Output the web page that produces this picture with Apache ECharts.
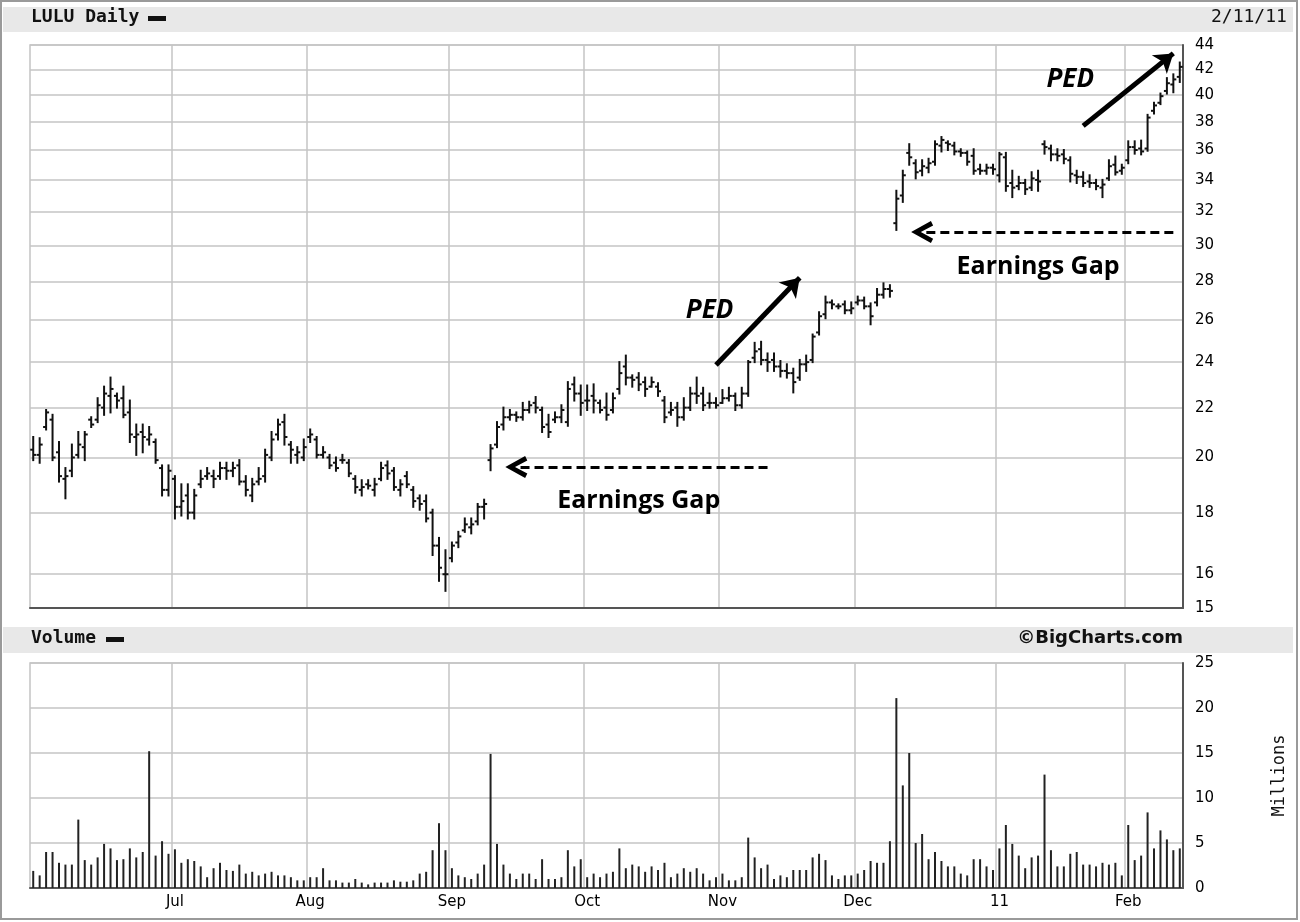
<!DOCTYPE html>
<html>
  <meta charset="UTF-8">
  <title>LULU Daily</title>
  <style type="text/css">
    html,body{margin:0px;height:100%;width:100%;background:#fff}
    .container{width:1300px;height:922px}
  </style>
  <script type="text/javascript" src="https://cdn.jsdelivr.net/npm/echarts@6/dist/echarts.min.js"></script>
  <body>
    <div id="chart" class="container"></div>

    <script>
      // trading days 2010-06-01 .. 2011-02-11
      var holidays = ['2010-07-05', '2010-09-06', '2010-11-25', '2010-12-24', '2011-01-17'];
      var monthNames = {'07':'Jul', '08':'Aug', '09':'Sep', '10':'Oct', '11':'Nov', '12':'Dec', '01':'11', '02':'Feb'};
      var priceTicks = [15, 16, 18, 20, 22, 24, 26, 28, 30, 32, 34, 36, 38, 40, 42, 44];

      var opens = [
        20.3,20.1,21.2,21.5,20.2,19.2,19.5,20.1,20.4,21.5,21.5,22.0,22.5,22.5,22.4,21.8,20.8,21.0,20.7,20.6,19.6,18.8,
        19.2,18.2,18.6,18.0,19.0,19.3,19.3,19.3,19.6,19.5,19.7,19.1,18.6,19.1,19.3,20.0,20.9,21.4,20.5,20.1,20.0,
        20.8,20.7,20.1,20.0,19.8,19.9,19.8,19.2,18.8,19.0,18.8,19.2,19.7,19.5,18.8,19.3,18.8,18.5,18.4,18.0,16.9,16.0,
        16.5,17.0,17.4,17.5,17.7,18.2,19.9,20.5,21.3,21.6,21.7,21.6,21.9,22.2,21.9,21.3,21.5,21.6,21.4,23.0,22.6,
        22.3,22.5,22.2,22.0,21.9,22.8,23.8,23.3,23.3,23.1,22.9,22.9,22.3,21.8,22.0,21.6,22.0,22.6,22.6,22.2,22.2,
        22.2,22.4,22.5,22.1,22.6,24.2,24.6,24.1,24.1,23.8,23.6,23.5,23.3,23.9,24.1,25.4,26.3,26.9,26.7,26.8,26.5,
        26.9,27.0,26.7,26.9,27.3,27.6,31.3,33.0,35.8,35.1,34.6,34.8,35.2,36.3,36.5,36.3,35.9,35.8,35.6,34.7,34.6,34.8,
        34.3,35.5,33.8,33.6,33.8,33.5,34.0,36.4,36.1,35.7,35.7,35.3,34.3,34.2,33.9,33.8,33.5,34.1,35.0,34.6,
        35.3,36.2,36.1,36.1,38.8,39.4,40.3,40.8,41.4
      ];
      var highs = [
        20.8,20.75,21.9,21.7,20.6,19.6,20.5,21.0,21.0,21.6,22.4,22.9,23.3,22.6,22.9,22.3,21.3,21.3,21.2,20.7,19.7,19.7,
        19.3,19.0,19.0,18.8,19.5,19.6,19.5,19.8,19.8,19.8,19.9,19.3,19.2,19.6,20.3,21.0,21.5,21.7,20.6,20.4,20.7,
        21.1,20.8,20.4,20.1,20.0,20.1,19.9,19.3,19.15,19.15,19.2,19.8,19.85,19.6,19.15,19.45,18.9,18.6,18.6,18.1,17.15,16.75,
        17.0,17.35,17.8,17.8,18.3,18.45,20.48,21.4,22.0,21.9,21.8,22.2,22.25,22.45,22.0,21.7,21.8,22.1,23.1,23.3,22.95,
        22.95,23.0,22.3,22.6,22.6,24.0,24.3,23.4,23.5,23.3,23.3,23.05,22.45,22.2,22.2,22.4,22.85,23.3,22.85,22.6,22.4,
        22.75,22.85,22.6,22.85,24.05,24.9,24.95,24.4,24.4,24.05,23.9,23.7,24.1,24.3,25.3,26.4,27.2,27.0,26.8,26.95,26.9,
        27.2,27.15,26.85,27.6,27.9,27.8,33.3,34.6,36.4,35.3,35.3,35.4,36.6,36.9,36.6,36.5,36.05,35.9,36.05,35.0,35.0,35.0,
        35.8,35.8,34.6,34.2,34.0,34.5,34.6,36.6,36.3,36.05,36.0,35.5,34.6,34.5,34.3,34.0,34.0,35.3,35.55,35.0,
        36.6,36.6,36.65,38.5,39.4,40.1,41.3,41.6,42.55
      ];
      var lows = [
        19.9,19.8,21.1,19.9,19.1,18.5,19.3,20.0,19.9,21.2,21.4,21.7,21.8,22.0,21.6,20.6,20.1,20.2,20.5,19.8,18.6,18.6,
        17.8,17.9,17.8,17.8,18.9,19.2,18.9,19.2,19.2,19.3,19.0,18.6,18.4,19.0,19.1,19.9,20.7,20.5,19.8,19.8,19.9,
        20.6,20.0,20.0,19.6,19.5,19.8,19.3,18.7,18.6,18.85,18.6,19.15,19.2,18.8,18.6,18.9,18.2,18.1,17.7,16.6,15.8,15.5,
        16.4,16.85,17.35,17.3,17.6,17.8,19.52,20.4,21.1,21.5,21.45,21.5,21.8,21.8,21.0,20.8,21.4,21.4,21.25,22.3,21.7,
        21.9,21.8,21.8,21.5,21.8,22.6,23.0,22.9,22.75,22.5,22.9,22.5,21.4,21.7,21.25,21.5,21.9,22.2,21.9,22.0,22.0,
        22.2,22.3,21.9,22.0,22.5,24.0,23.9,23.6,23.6,23.35,23.3,22.65,23.2,23.6,24.0,25.3,26.1,26.6,26.6,26.35,26.35,
        26.8,26.6,25.8,26.75,27.15,27.2,30.9,32.6,35.0,34.1,34.3,34.5,35.0,35.9,36.0,35.7,35.6,35.0,34.4,34.4,34.4,34.4,
        33.9,33.3,32.9,33.4,33.1,33.35,33.3,35.75,35.3,35.3,35.1,33.9,33.8,33.6,33.55,33.4,32.9,34.0,34.35,34.4,
        35.1,35.75,35.7,35.95,38.6,39.3,40.1,40.2,41.0
      ];
      var closes = [
        20.1,20.5,21.8,20.0,19.3,19.3,20.0,20.5,20.9,21.3,22.1,22.6,22.8,22.3,21.7,20.9,20.9,20.8,20.9,19.9,18.8,19.5,
        18.2,18.4,18.0,18.6,19.2,19.4,19.2,19.6,19.5,19.6,19.1,18.8,19.0,19.2,20.1,20.7,21.3,20.8,20.3,20.2,20.4,
        20.9,20.1,20.2,19.7,19.6,19.9,19.4,18.9,18.9,18.95,19.0,19.6,19.4,18.9,19.0,19.0,18.4,18.3,17.8,16.9,16.2,16.0,
        16.9,17.2,17.6,17.6,18.2,18.3,20.35,21.2,21.6,21.7,21.6,21.9,22.1,22.0,21.2,21.0,21.6,21.9,22.8,22.6,22.2,
        22.3,22.3,21.9,21.7,22.4,23.5,23.3,23.2,23.0,22.8,23.1,22.7,21.6,21.9,21.6,22.0,22.6,22.5,22.1,22.2,22.1,
        22.4,22.5,22.1,22.6,24.0,24.5,24.1,24.0,23.8,23.6,23.5,23.1,23.9,24.0,25.2,26.2,26.9,26.8,26.7,26.5,26.6,
        27.0,26.7,26.2,27.3,27.6,27.5,32.8,34.3,35.5,34.5,34.9,35.1,36.4,36.7,36.4,35.9,35.8,35.2,34.6,34.6,34.8,34.7,
        35.7,33.6,33.5,33.8,33.4,34.1,33.9,36.2,35.7,35.6,35.4,34.4,34.2,33.8,33.8,33.6,33.7,34.9,34.5,34.8,
        36.2,36.0,35.9,38.3,39.2,39.9,40.9,41.2,42.2
      ];
      // volume, millions
      var volumes = [
        1.9,1.4,4.0,4.0,2.8,2.6,2.6,7.6,3.1,2.6,3.4,4.9,4.4,3.1,3.2,4.4,3.4,4.0,15.2,3.6,5.2,3.8,
        4.3,2.8,3.2,3.0,2.4,1.2,2.2,2.8,2.0,1.9,2.6,1.6,1.8,1.4,1.6,1.8,1.4,1.4,1.2,0.85,0.85,
        1.2,1.2,2.2,0.85,0.85,0.6,0.6,1.0,0.6,0.4,0.6,0.6,0.6,0.85,0.7,0.7,0.85,1.6,1.8,4.2,7.2,4.2,
        2.2,1.4,1.2,1.0,1.6,2.6,14.9,4.9,2.6,1.6,1.0,1.6,1.6,1.0,3.2,1.0,1.0,1.2,4.2,2.4,3.2,
        1.2,1.6,1.2,1.6,1.8,4.4,2.2,2.6,2.4,1.8,2.4,2.0,2.8,1.2,1.6,2.2,1.8,2.2,1.6,0.85,1.2,
        1.6,0.85,0.85,1.2,5.6,3.4,2.2,2.6,1.0,1.4,1.2,2.0,2.0,2.0,3.4,3.8,3.1,1.4,1.0,1.4,1.4,
        1.6,2.0,3.0,2.8,2.8,5.2,21.1,11.4,15.0,5.0,6.0,3.2,4.0,3.0,2.4,2.4,1.6,1.4,3.2,3.2,2.4,2.0,
        4.4,7.0,4.9,3.6,2.2,3.4,3.6,12.6,4.2,2.4,2.4,3.8,4.0,2.6,2.6,2.4,2.8,2.6,2.8,1.4,
        7.0,3.1,3.6,8.4,4.4,6.4,5.4,4.2,4.4
      ];

      function pad(n) { return n < 10 ? '0' + n : '' + n; }
      var dates = [];
      var d = new Date(Date.UTC(2010, 5, 1));
      var end = new Date(Date.UTC(2011, 1, 11));
      while (d <= end) {
        var s = d.getUTCFullYear() + '-' + pad(d.getUTCMonth() + 1) + '-' + pad(d.getUTCDate());
        var wd = d.getUTCDay();
        if (wd !== 0 && wd !== 6 && holidays.indexOf(s) < 0) dates.push(s);
        d.setUTCDate(d.getUTCDate() + 1);
      }

      function monthStart(i) {
        return i > 0 && dates[i].slice(0, 7) !== dates[i - 1].slice(0, 7);
      }

      var ohlc = dates.map(function (day, i) {
        return [i, opens[i], highs[i], lows[i], closes[i]];
      });

      function renderBar(params, api) {
        var i = api.value(0);
        var o = api.coord([i, api.value(1)]);
        var h = api.coord([i, api.value(2)]);
        var l = api.coord([i, api.value(3)]);
        var c = api.coord([i, api.value(4)]);
        var st = { stroke: '#111', lineWidth: 2 };
        return {
          type: 'group',
          children: [
            { type: 'line', shape: { x1: h[0], y1: h[1] - 1, x2: l[0], y2: l[1] + 1 }, style: st },
            { type: 'line', shape: { x1: o[0] - 3, y1: o[1], x2: o[0], y2: o[1] }, style: st },
            { type: 'line', shape: { x1: c[0], y1: c[1], x2: c[0] + 3, y2: c[1] }, style: st }
          ]
        };
      }

      var gridColor = '#c4c4c4';
      var axisDark = '#555';
      var labelFont = { fontFamily: 'DejaVu Sans', fontSize: 15, color: '#000' };
      var monoFont = 'DejaVu Sans Mono';
      // open chevron used for the dashed "earnings gap" arrows
      var chevron = 'path://M0,9 L5,0 L10,9 L8,10 L5,4.4 L2,10 Z';

      var chart = echarts.init(document.getElementById('chart'), null, { renderer: 'canvas' });

      var option = {
        animation: false,
        backgroundColor: '#fff',
        grid: [
          { left: 30, right: 117, top: 45, height: 563, show: true, borderColor: gridColor, borderWidth: 1.5 },
          { left: 30, right: 117, top: 663, height: 225, show: true, borderColor: gridColor, borderWidth: 1.5 }
        ],
        xAxis: [
          {
            type: 'category', gridIndex: 0, data: dates, boundaryGap: true,
            axisLine: { show: true, lineStyle: { color: axisDark, width: 2 } },
            axisTick: { show: false },
            axisLabel: { show: false },
            splitLine: { show: true, interval: monthStart, lineStyle: { color: gridColor, width: 1.5 } }
          },
          {
            type: 'category', gridIndex: 1, data: dates, boundaryGap: true,
            axisLine: { show: true, lineStyle: { color: axisDark, width: 2 } },
            axisTick: { show: false },
            axisLabel: Object.assign({
              interval: monthStart,
              margin: 7,
              formatter: function (v) { return monthNames[v.slice(5, 7)]; }
            }, labelFont),
            splitLine: { show: true, interval: monthStart, lineStyle: { color: gridColor, width: 1.5 } }
          }
        ],
        yAxis: [
          {
            type: 'log', gridIndex: 0, position: 'right', min: 15, max: 44,
            axisLine: { show: true, lineStyle: { color: axisDark, width: 2 } },
            axisTick: { show: false, customValues: priceTicks },
            axisLabel: Object.assign({ customValues: priceTicks, margin: 12 }, labelFont),
            splitLine: { show: true, lineStyle: { color: gridColor, width: 1.5 } }
          },
          {
            type: 'value', gridIndex: 1, position: 'right', min: 0, max: 25, interval: 5,
            name: 'Millions', nameLocation: 'middle', nameRotate: 90, nameGap: 88,
            nameTextStyle: { fontFamily: monoFont, fontSize: 17, color: '#111' },
            axisLine: { show: true, lineStyle: { color: axisDark, width: 2 } },
            axisTick: { show: false },
            axisLabel: Object.assign({ margin: 12 }, labelFont),
            splitLine: { show: true, lineStyle: { color: gridColor, width: 1.5 } }
          }
        ],
        series: [
          {
            type: 'custom', name: 'LULU', xAxisIndex: 0, yAxisIndex: 0,
            renderItem: renderBar, data: ohlc,
            encode: { x: 0, y: [1, 2, 3, 4] }
          },
          {
            type: 'bar', name: 'Volume', xAxisIndex: 1, yAxisIndex: 1,
            data: volumes, barWidth: 2, itemStyle: { color: '#222' }
          },
          {
            // annotations, placed in price/date coordinates
            type: 'line', xAxisIndex: 0, yAxisIndex: 0, data: closes,
            showSymbol: false, silent: true, lineStyle: { opacity: 0 },
            markLine: {
              silent: true, symbol: ['none', 'arrow'], symbolSize: 18,
              label: { show: false },
              data: [
                [{ coord: [106, 23.87], lineStyle: { color: '#000', width: 5, type: 'solid' } }, { coord: [119, 28.2] }],
                [{ coord: [163, 37.7], lineStyle: { color: '#000', width: 5, type: 'solid' } }, { coord: [177, 43.3] }],
                [{ coord: [114, 19.64], symbol: 'none', lineStyle: { color: '#000', width: 3, type: [9, 5] } }, { coord: [75.4, 19.64], symbol: chevron, symbolSize: 22 }],
                [{ coord: [176.5, 30.77], symbol: 'none', lineStyle: { color: '#000', width: 3, type: [9, 5] } }, { coord: [137.8, 30.77], symbol: chevron, symbolSize: 22 }]
              ]
            },
            markPoint: {
              silent: true, symbol: 'circle', symbolSize: 1,
              itemStyle: { color: 'rgba(0,0,0,0)' },
              label: { show: true, position: 'inside', color: '#000', fontFamily: 'Open Sans', fontWeight: 'bold' },
              data: [
                { coord: [105, 26.5], label: { formatter: 'PED', fontSize: 26, fontStyle: 'italic' } },
                { coord: [161, 41.15], label: { formatter: 'PED', fontSize: 26, fontStyle: 'italic' } },
                { coord: [94, 18.4], label: { formatter: 'Earnings Gap', fontSize: 25 } },
                { coord: [156, 28.78], label: { formatter: 'Earnings Gap', fontSize: 25 } }
              ]
            }
          }
        ],
        graphic: [
          { type: 'rect', z: -10, shape: { x: 1, y: 1, width: 1296, height: 918 }, style: { fill: 'none', stroke: '#9a9a9a', lineWidth: 2 } },
          { type: 'rect', z: -9, shape: { x: 3, y: 7, width: 1290, height: 25 }, style: { fill: '#e8e8e8' } },
          { type: 'rect', z: -9, shape: { x: 3, y: 627, width: 1290, height: 26 }, style: { fill: '#e8e8e8' } },
          { type: 'text', left: 31, top: 8, style: { text: 'LULU Daily', font: 'bold 18px "DejaVu Sans Mono"', fill: '#111' } },
          { type: 'rect', shape: { x: 148, y: 16, width: 18, height: 5 }, style: { fill: '#111' } },
          { type: 'text', left: 1211, top: 8, style: { text: '2/11/11', font: '18px "DejaVu Sans Mono"', fill: '#111' } },
          { type: 'text', left: 31, top: 629, style: { text: 'Volume', font: 'bold 18px "DejaVu Sans Mono"', fill: '#111' } },
          { type: 'rect', shape: { x: 106, y: 637, width: 18, height: 5 }, style: { fill: '#111' } },
          { type: 'text', right: 117, top: 629, style: { text: '\u00a9BigCharts.com', font: 'bold 18px "DejaVu Sans"', fill: '#111' } }
        ]
      };

      chart.setOption(option);
    </script>
  </body>
</html>
